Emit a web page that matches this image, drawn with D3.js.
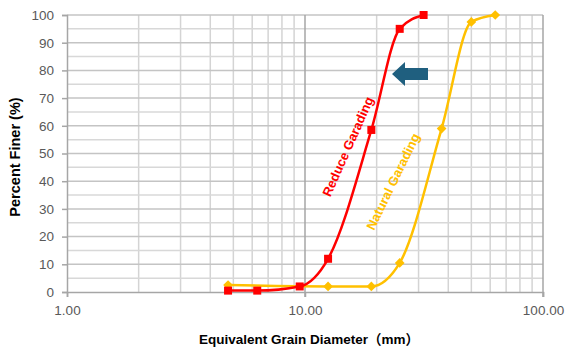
<!DOCTYPE html>
<html>
<head>
<meta charset="utf-8">
<script src="https://cdn.jsdelivr.net/npm/d3@7"></script>
<style>
  body { margin: 0; background: #fff; }
  svg { display: block; font-family: "Liberation Sans", Arial, sans-serif; }
</style>
</head>
<body>
<figure id="chart" style="margin:0"></figure>
<script>
// sieve sizes (mm) and percent finer
const reduceSize = [4.75, 6.3, 9.5, 12.5, 19, 25, 31.5];
const reduceFiner = [0.5, 0.5, 2, 12, 58.5, 95, 100];
const naturalSize = [4.75, 12.5, 19, 25, 37.5, 50, 63];
const naturalFiner = [2.5, 2, 2, 10.5, 59, 97.5, 100];
const xTicks = [1, 10, 100];
const yTicks = [0, 10, 20, 30, 40, 50, 60, 70, 80, 90, 100];

const W = 566, H = 356;
const mLeft = 67, mRight = 543, mTop = 15, mBottom = 292;

const svg = d3.select("#chart").append("svg")
  .attr("width", W).attr("height", H);

const x = d3.scaleLog().domain([1, 100]).range([mLeft, mRight]);
const y = d3.scaleLinear().domain([0, 100]).range([mBottom, mTop]);

// grid
const grid = svg.append("g");
const minorX = [];
for (let d = 1; d < 100; d *= 10) for (let k = 2; k <= 9; k++) minorX.push(d * k);
grid.selectAll("line.vx").data(minorX).enter().append("line")
  .attr("x1", d => x(d)).attr("x2", d => x(d))
  .attr("y1", mTop).attr("y2", mBottom)
  .attr("stroke", "#d4d4d4").attr("stroke-width", 1.5);
const hy = d3.range(5, 101, 5);
grid.selectAll("line.hy").data(hy).enter().append("line")
  .attr("x1", mLeft).attr("x2", mRight)
  .attr("y1", d => y(d)).attr("y2", d => y(d))
  .attr("stroke", d => d % 10 === 0 ? "#c4c4c4" : "#d8d8d8").attr("stroke-width", 1.5);
grid.append("line")
  .attr("x1", x(10)).attr("x2", x(10)).attr("y1", mTop).attr("y2", mBottom + 5)
  .attr("stroke", "#a6a6a6").attr("stroke-width", 1.5);
grid.append("line")
  .attr("x1", x(100)).attr("x2", x(100)).attr("y1", mTop).attr("y2", mBottom + 5)
  .attr("stroke", "#a6a6a6").attr("stroke-width", 1.5);

// axes
const yAxis = svg.append("g").attr("transform", `translate(${mLeft},0)`)
  .call(d3.axisLeft(y).tickValues(yTicks).tickSize(5).tickPadding(8));
const xAxis = svg.append("g").attr("transform", `translate(0,${mBottom})`)
  .call(d3.axisBottom(x).tickValues(xTicks).tickSize(5).tickPadding(8)
    .tickFormat(d3.format(".2f")));
[yAxis, xAxis].forEach(a => {
  a.select(".domain").attr("stroke", "#a6a6a6").attr("stroke-width", 1.5);
  a.selectAll(".tick line").attr("stroke", "#a6a6a6").attr("stroke-width", 1.5);
  a.selectAll("text").attr("fill", "#595959").style("font-size", "13.5px")
    .style("font-family", "Liberation Sans, Arial, sans-serif");
});

// curves
const line = d3.line().curve(d3.curveMonotoneX)
  .x(d => x(d[0])).y(d => y(d[1]));
const reduce = reduceSize.map((s, i) => [s, reduceFiner[i]]);
const natural = naturalSize.map((s, i) => [s, naturalFiner[i]]);

svg.append("path").datum(natural).attr("d", line)
  .attr("fill", "none").attr("stroke", "#FFC000").attr("stroke-width", 2.5);
svg.append("path").datum(reduce).attr("d", line)
  .attr("fill", "none").attr("stroke", "#FF0000").attr("stroke-width", 2.5);

svg.append("g").selectAll("path").data(natural).enter().append("path")
  .attr("d", d3.symbol(d3.symbolDiamond2, 60))
  .attr("transform", d => `translate(${x(d[0])},${y(d[1])})`)
  .attr("fill", "#FFC000");
svg.append("g").selectAll("rect").data(reduce).enter().append("rect")
  .attr("x", d => x(d[0]) - 4).attr("y", d => y(d[1]) - 4)
  .attr("width", 8).attr("height", 8).attr("fill", "#FF0000");

// curve labels
svg.append("text").text("Reduce Garading")
  .attr("transform", "translate(349,147) rotate(-66)")
  .attr("text-anchor", "middle").attr("dominant-baseline", "middle")
  .attr("fill", "#FF0000").style("font-size", "13px").style("font-weight", "bold")
  .style("font-family", "Liberation Sans, Arial, sans-serif");
svg.append("text").text("Natural Garading")
  .attr("transform", "translate(394,182) rotate(-64)")
  .attr("text-anchor", "middle").attr("dominant-baseline", "middle")
  .attr("fill", "#FFC000").style("font-size", "13px").style("font-weight", "bold")
  .style("font-family", "Liberation Sans, Arial, sans-serif");

// arrow
svg.append("path")
  .attr("d", "M392,74 L405,62 L405,68 L428,68 L428,80 L405,80 L405,86 Z")
  .attr("fill", "#1F5F7F");

// axis titles
svg.append("text").text("Percent Finer (%)")
  .attr("transform", "translate(16,157) rotate(-90)")
  .attr("text-anchor", "middle").attr("dominant-baseline", "middle")
  .attr("fill", "#000").style("font-size", "14.5px").style("font-weight", "bold");
svg.append("text").text("Equivalent Grain Diameter（mm）")
  .attr("x", 309).attr("y", 340)
  .attr("text-anchor", "middle").attr("dominant-baseline", "middle")
  .attr("fill", "#000").style("font-size", "13.5px").style("font-weight", "bold")
  .style("font-family", "Liberation Sans, Noto Sans CJK SC, sans-serif");
</script>
</body>
</html>
